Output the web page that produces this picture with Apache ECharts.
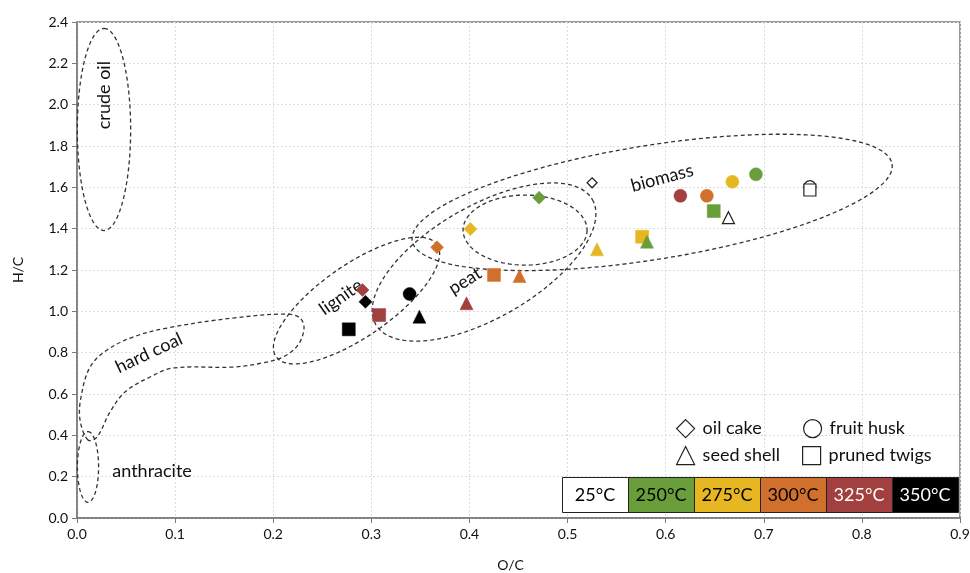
<!DOCTYPE html>
<html><head><meta charset="utf-8">
<script src="https://cdn.jsdelivr.net/npm/echarts@6/dist/echarts.min.js"></script>
<style>html,body{margin:0;padding:0;background:#fff}#c{width:970px;height:573px}</style>
</head><body><div id="c"></div>
<script>
// ---- data ----
const temps = ['25°C', '250°C', '275°C', '300°C', '325°C', '350°C'];
const tempColors = ['#ffffff', '#6a9e3a', '#e6b721', '#d1702c', '#a23f3f', '#000000'];
const tempTextColors = ['#000', '#000', '#000', '#000', '#fff', '#fff'];

const materials = ['oil cake', 'fruit husk', 'pruned twigs', 'seed shell'];
const materialSymbols = ['diamond', 'circle', 'rect', 'triangle'];

const oilCakeOC     = [0.525, 0.471, 0.401, 0.367, 0.291, 0.294];
const oilCakeHC     = [1.622, 1.550, 1.398, 1.310, 1.103, 1.046];
const fruitHuskOC   = [0.747, 0.692, 0.668, 0.642, 0.615, 0.339];
const fruitHuskHC   = [1.603, 1.663, 1.627, 1.559, 1.559, 1.084];
const prunedTwigsOC = [0.747, 0.649, 0.576, 0.425, 0.308, 0.277];
const prunedTwigsHC = [1.587, 1.485, 1.361, 1.176, 0.982, 0.913];
const seedShellOC   = [0.664, 0.581, 0.530, 0.451, 0.397, 0.349];
const seedShellHC   = [1.453, 1.337, 1.300, 1.171, 1.039, 0.974];

const xTicks = [0.0, 0.1, 0.2, 0.3, 0.4, 0.5, 0.6, 0.7, 0.8, 0.9];
const yTicks = [0.0, 0.2, 0.4, 0.6, 0.8, 1.0, 1.2, 1.4, 1.6, 1.8, 2.0, 2.2, 2.4];

// region outlines (data units): centre, end of major semi-axis, minor/major ratio
const regionCenters  = [[0.0275, 1.880], [0.0112, 0.247], [0.2849, 1.052], [0.4149, 1.2385], [0.5862, 1.527], [0.4567, 1.393]];
const regionAxisEnds = [[0.0275, 2.369], [0.0112, 0.418], [0.3670, 1.323], [0.5253, 1.5409], [0.8308, 1.7126], [0.5199, 1.393]];
const regionAspect   = [0.264, 0.30, 0.367, 0.448, 0.235, 0.565];

const hardCoalOutline = [
  [0.0112, 0.3774], [0.0031, 0.4741], [0.0041, 0.5854], [0.0133, 0.7305], [0.0306, 0.8128],
  [0.0571, 0.8757], [0.0917, 0.9192], [0.1590, 0.9676], [0.2141, 0.9869], [0.2273, 0.9676],
  [0.2314, 0.9192], [0.2253, 0.8370], [0.2100, 0.7789], [0.1886, 0.7499], [0.1590, 0.7305],
  [0.0979, 0.7257], [0.0744, 0.6821], [0.0489, 0.6096], [0.0336, 0.5128], [0.0204, 0.3919]
];

const regionLabels    = ['crude oil', 'hard coal', 'anthracite', 'lignite', 'peat', 'biomass'];
const regionLabelPos  = [[0.0275, 2.046], [0.0734, 0.798], [0.0765, 0.227], [0.2691, 1.069], [0.3955, 1.147], [0.5963, 1.645]];
const regionLabelRot  = [90, 25, 0, 35, 32, 15];

// ---- build ----
const matOC = [oilCakeOC, fruitHuskOC, prunedTwigsOC, seedShellOC];
const matHC = [oilCakeHC, fruitHuskHC, prunedTwigsHC, seedShellHC];
const FONT = 'Lato';
const dashStyle = { fill: 'none', stroke: '#333', lineWidth: 1.3, lineDash: [4, 3] };

function ellipseItem(params, api) {
  const i = params.dataIndex;
  const c = api.coord(regionCenters[i]);
  const m = api.coord(regionAxisEnds[i]);
  const dx = m[0] - c[0], dy = m[1] - c[1];
  const a = Math.hypot(dx, dy);
  const ux = dx / a, uy = dy / a;
  const b = a * regionAspect[i];
  const pts = [];
  for (let k = 0; k < 120; k++) {
    const t = k / 120 * 2 * Math.PI;
    const ca = Math.cos(t) * a, sb = Math.sin(t) * b;
    pts.push([c[0] + ca * ux - sb * uy, c[1] + ca * uy + sb * ux]);
  }
  return { type: 'polygon', shape: { points: pts }, style: dashStyle, silent: true };
}

function hardCoalItem(params, api) {
  const pts = hardCoalOutline.map(p => api.coord(p));
  return { type: 'polygon', shape: { points: pts, smooth: 0.35 }, style: dashStyle, silent: true };
}

function labelItem(params, api) {
  const i = params.dataIndex;
  const p = api.coord(regionLabelPos[i]);
  return {
    type: 'text', x: p[0], y: p[1], rotation: regionLabelRot[i] * Math.PI / 180, silent: true,
    style: { text: regionLabels[i], fontSize: 18, fontFamily: FONT, fill: '#111', align: 'center', verticalAlign: 'middle' }
  };
}

const series = [
  { type: 'custom', coordinateSystem: 'cartesian2d', renderItem: ellipseItem, data: regionCenters, z: 1, silent: true },
  { type: 'custom', coordinateSystem: 'cartesian2d', renderItem: hardCoalItem, data: [[0, 0]], z: 1, silent: true },
  { type: 'custom', coordinateSystem: 'cartesian2d', renderItem: labelItem, data: regionLabelPos, z: 2, silent: true }
];
materials.forEach((name, mi) => {
  series.push({
    name, type: 'scatter', symbol: materialSymbols[mi], symbolSize: 13, z: 5,
    itemStyle: { color: '#fff', borderColor: '#222', borderWidth: 1.2, opacity: 1 },
    data: matOC[mi].map((x, ti) => ({
      value: [x, matHC[mi][ti]],
      symbolSize: ti === 0 ? (mi === 0 ? 10 : 12) : 13,
      itemStyle: ti === 0 ? { color: '#fff', borderColor: '#222', borderWidth: 1.2, opacity: 1 }
                          : { color: tempColors[ti], borderColor: tempColors[ti], borderWidth: 0.5, opacity: 1 }
    }))
  });
});

const legendPos = [[676, 419], [803, 419], [802, 446], [676, 446]];
const legends = materials.map((name, mi) => ({
  data: [name], left: legendPos[mi][0], top: legendPos[mi][1], itemWidth: 18, itemHeight: 18, itemGap: 0,
  selectedMode: false, padding: 0,
  textStyle: { fontSize: 18, fontFamily: FONT, color: '#111', padding: [0, 0, 0, 3] },
  itemStyle: { color: '#fff', borderColor: '#222', borderWidth: 1.2, opacity: 1 }
}));

const boxX = 562, boxY = 477, boxW = 66, boxH = 35;
const graphics = [];
temps.forEach((t, i) => {
  graphics.push({ type: 'rect', left: boxX + i * boxW, top: boxY, shape: { width: boxW, height: boxH },
    style: { fill: tempColors[i], stroke: '#222', lineWidth: 1 }, z: 10 });
  graphics.push({ type: 'text', x: boxX + i * boxW + boxW / 2, y: boxY + boxH / 2 + 1, z: 11,
    style: { text: t, fontSize: 18, fontFamily: FONT, fill: tempTextColors[i], align: 'center', verticalAlign: 'middle' } });
});

const chart = echarts.init(document.getElementById('c'), null, { renderer: 'canvas' });
chart.setOption({
  animation: false,
  backgroundColor: '#fff',
  grid: { left: 77, right: 10, top: 22, bottom: 55, show: true, borderColor: '#7a7a7a', borderWidth: 1.5,
          containLabel: false, outerBoundsMode: 'none' },
  legend: legends,
  xAxis: {
    type: 'value', min: xTicks[0], max: xTicks[xTicks.length - 1], interval: 0.1,
    name: 'O/C', nameLocation: 'middle', nameGap: 40,
    nameTextStyle: { fontSize: 14, fontFamily: FONT, color: '#111', padding: [0, 16, 0, 0] },
    axisLine: { lineStyle: { color: '#7a7a7a', width: 1.5 } },
    axisTick: { show: true, length: 5, lineStyle: { color: '#7a7a7a' } },
    axisLabel: { fontSize: 14, fontFamily: FONT, color: '#111', margin: 9, formatter: v => v.toFixed(1) },
    splitLine: { show: true, lineStyle: { color: '#dcdcdc', type: [2, 2], width: 1 } }
  },
  yAxis: {
    type: 'value', min: yTicks[0], max: yTicks[yTicks.length - 1], interval: 0.2,
    name: 'H/C', nameLocation: 'middle', nameGap: 52, nameRotate: 90,
    nameTextStyle: { fontSize: 14, fontFamily: FONT, color: '#111' },
    axisLine: { show: true, lineStyle: { color: '#7a7a7a', width: 1.5 } },
    axisTick: { show: true, length: 5, lineStyle: { color: '#7a7a7a' } },
    axisLabel: { fontSize: 14, fontFamily: FONT, color: '#111', margin: 9, formatter: v => v.toFixed(1) },
    splitLine: { show: true, lineStyle: { color: '#dcdcdc', type: [2, 2], width: 1 } }
  },
  series,
  graphic: graphics
});
</script></body></html>
